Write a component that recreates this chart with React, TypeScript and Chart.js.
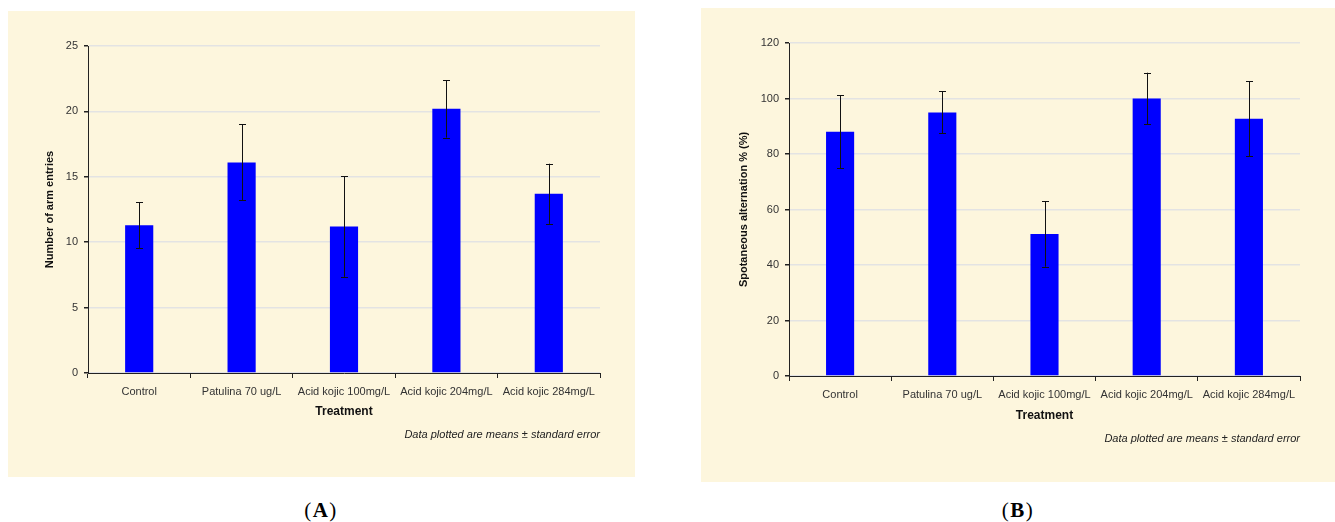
import React, { useEffect, useRef } from "react";
import { Chart, registerables } from "chart.js";

Chart.register(...registerables);

const categories = [
  "Control",
  "Patulina 70 ug/L",
  "Acid kojic 100mg/L",
  "Acid kojic 204mg/L",
  "Acid kojic 284mg/L",
];
const armEntriesMeans = [11.3, 16.1, 11.2, 20.2, 13.7];
const armEntriesErrors = [1.75, 2.9, 3.85, 2.2, 2.3];
const alternationMeans = [88, 95, 51.2, 100, 92.7];
const alternationErrors = [13.2, 7.6, 11.8, 9.3, 13.6];

const xTitle = "Treatment";
const yTitleA = "Number of arm entries";
const yTitleB = "Spotaneous alternation % (%)";
const noteText = "Data plotted are means \u00b1 standard error";
const captions = ["A", "B"];

const FONT = "'Liberation Sans', Arial, Helvetica, sans-serif";
const BEIGE = "#fdf6dd";
const BLUE = "#0000ff";
const AXIS = "#222222";
const GRID = "#e3e3e3";

type PanelCfg = {
  left: number;
  top: number;
  width: number;
  height: number;
  pad: { left: number; top: number; right: number; bottom: number };
  yWidth: number;
  xHeight: number;
  yMax: number;
  yStep: number;
  yTitle: string;
  means: number[];
  errors: number[];
  noteOffset: number;
};

const panels: PanelCfg[] = [
  {
    left: 8,
    top: 11,
    width: 627,
    height: 466,
    pad: { left: 35, top: 35, right: 35, bottom: 58 },
    yWidth: 45,
    xHeight: 46,
    yMax: 25,
    yStep: 5,
    yTitle: yTitleA,
    means: armEntriesMeans,
    errors: armEntriesErrors,
    noteOffset: 62,
  },
  {
    left: 701,
    top: 8,
    width: 634,
    height: 474,
    pad: { left: 36, top: 35, right: 35, bottom: 59 },
    yWidth: 52,
    xHeight: 47,
    yMax: 120,
    yStep: 20,
    yTitle: yTitleB,
    means: alternationMeans,
    errors: alternationErrors,
    noteOffset: 63,
  },
];

const errorBarPlugin = {
  id: "errorBars",
  afterDatasetsDraw(chart: any) {
    const ctx = chart.ctx;
    const yScale = chart.scales.y;
    chart.data.datasets.forEach((ds: any, di: number) => {
      const meta = chart.getDatasetMeta(di);
      const errs: number[] = ds.errors || [];
      meta.data.forEach((el: any, i: number) => {
        const v = ds.data[i];
        const e = errs[i];
        if (e == null) return;
        const x = Math.round(el.x) + 0.5;
        const yt = yScale.getPixelForValue(v + e);
        const yb = yScale.getPixelForValue(v - e);
        ctx.save();
        ctx.strokeStyle = "#111";
        ctx.lineWidth = 1;
        ctx.beginPath();
        ctx.moveTo(x, yt);
        ctx.lineTo(x, yb);
        ctx.moveTo(x - 3.5, Math.round(yt) + 0.5);
        ctx.lineTo(x + 3.5, Math.round(yt) + 0.5);
        ctx.moveTo(x - 3.5, Math.round(yb) + 0.5);
        ctx.lineTo(x + 3.5, Math.round(yb) + 0.5);
        ctx.stroke();
        ctx.restore();
      });
    });
  },
};

const notePlugin = {
  id: "noteText",
  afterDraw(chart: any, _args: any, opts: any) {
    const { ctx, chartArea } = chart;
    ctx.save();
    ctx.font = `italic 11px ${FONT}`;
    ctx.fillStyle = "#222";
    ctx.textAlign = "right";
    ctx.textBaseline = "middle";
    ctx.fillText(opts.text, chartArea.right, chartArea.bottom + opts.offset);
    ctx.restore();
  },
};

function Panel({ cfg }: { cfg: PanelCfg }) {
  const ref = useRef<HTMLCanvasElement>(null);
  useEffect(() => {
    if (!ref.current) return;
    const chart = new Chart(ref.current, {
      type: "bar",
      data: {
        labels: categories,
        datasets: [
          {
            data: cfg.means,
            errors: cfg.errors,
            backgroundColor: BLUE,
            borderWidth: 0,
            barPercentage: 0.275,
            categoryPercentage: 1,
          } as any,
        ],
      },
      options: {
        responsive: false,
        animation: false,
        devicePixelRatio: 1,
        layout: { padding: cfg.pad },
        plugins: {
          legend: { display: false },
          tooltip: { enabled: false },
          noteText: { text: noteText, offset: cfg.noteOffset },
        } as any,
        scales: {
          x: {
            afterFit: (s: any) => {
              s.height = cfg.xHeight;
            },
            grid: {
              display: true,
              drawOnChartArea: false,
              drawTicks: true,
              tickLength: 5,
              offset: true,
              color: AXIS,
            },
            border: { display: true, color: AXIS, width: 1 },
            ticks: {
              font: { family: FONT, size: 11 },
              color: "#333",
              padding: 7,
              maxRotation: 0,
              minRotation: 0,
              autoSkip: false,
            },
            title: {
              display: true,
              text: xTitle,
              font: { family: FONT, size: 12, weight: "bold" },
              color: "#111",
              padding: { top: 0, bottom: 0 },
            },
          },
          y: {
            min: 0,
            max: cfg.yMax,
            afterFit: (s: any) => {
              s.width = cfg.yWidth;
            },
            grid: {
              color: GRID,
              lineWidth: 1.5,
              tickColor: AXIS,
              tickLength: 4,
              drawTicks: true,
            },
            border: { display: true, color: AXIS, width: 1 },
            ticks: {
              stepSize: cfg.yStep,
              font: { family: FONT, size: 11 },
              color: "#333",
              padding: 6,
            },
            title: {
              display: true,
              text: cfg.yTitle,
              font: { family: FONT, size: 11, weight: "bold" },
              color: "#111",
              padding: { top: 0, bottom: 0 },
            },
          },
        },
      } as any,
      plugins: [errorBarPlugin, notePlugin],
    });
    return () => chart.destroy();
  }, [cfg]);
  return (
    <canvas
      ref={ref}
      width={cfg.width}
      height={cfg.height}
      style={{
        position: "absolute",
        left: cfg.left,
        top: cfg.top,
        width: cfg.width,
        height: cfg.height,
        background: BEIGE,
      }}
    />
  );
}

const captionCenters = [321, 1018];

export default function App() {
  return (
    <div
      style={{
        position: "absolute",
        left: 0,
        top: 0,
        width: 1335,
        height: 522,
        overflow: "hidden",
        background: "#ffffff",
      }}
    >
      {panels.map((p, i) => (
        <Panel key={i} cfg={p} />
      ))}
      {captions.map((c, i) => (
        <div
          key={c}
          style={{
            position: "absolute",
            left: captionCenters[i] - 40,
            top: 497,
            width: 80,
            height: 26,
            lineHeight: "26px",
            textAlign: "center",
            fontFamily: "'Liberation Serif', 'Times New Roman', serif",
            fontSize: 21,
            letterSpacing: 1.5,
            color: "#000",
          }}
        >
          (<b>{c}</b>)
        </div>
      ))}
    </div>
  );
}
